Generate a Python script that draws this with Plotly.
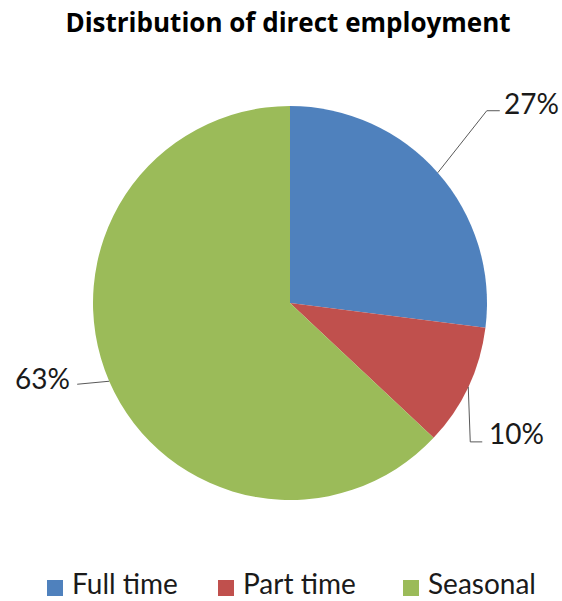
import math
import plotly.graph_objects as go

categories = ["Full time", "Part time", "Seasonal"]
values = [27, 10, 63]
colors = ["#4F81BD", "#C0504D", "#9BBB59"]

W, H = 562, 601
CX, CY, R = 290, 303, 197  # pie centre / radius in pixels

def px(x):
    return x / W

def py(y):
    return 1 - y / H

fig = go.Figure(go.Pie(
    labels=categories, values=values, sort=False, direction="clockwise",
    rotation=0, marker=dict(colors=colors, line=dict(width=0)),
    textinfo="none", hoverinfo="label+percent", showlegend=False,
    domain=dict(x=[px(CX - R), px(CX + R)], y=[py(CY + R), py(CY - R)]),
))

# leader lines and labels derived from slice mid-angles
total = sum(values)
cum = 0
mids = []
for v in values:
    mids.append((cum + v / 2) / total * 2 * math.pi)
    cum += v

bends = [
    [(49, -62), (62, -62)],
    [(2, 55), (14, 55)],
    [(-32, 3)],
]
anchors = ["left", "left", "right"]
text_dx = [2, 5, -5]
text_dy = [-8, -9, -6]
shapes, annos = [], []
for i, v in enumerate(values):
    a = mids[i]
    ex = CX + R * math.sin(a)
    ey = CY - R * math.cos(a)
    pts = [(ex, ey)] + [(ex + dx, ey + dy) for dx, dy in bends[i]]
    path = "M " + " L ".join(f"{px(x):.5f},{py(y):.5f}" for x, y in pts)
    shapes.append(dict(type="path", xref="paper", yref="paper", path=path,
                       line=dict(color="#595959", width=1)))
    lx, ly = pts[-1]
    annos.append(dict(x=px(lx + text_dx[i]), y=py(ly + text_dy[i]), xref="paper", yref="paper",
                      text=f"{round(v / total * 100)}%", showarrow=False,
                      xanchor=anchors[i], yanchor="middle",
                      font=dict(family="Lato", size=28, color="#1a1a1a")))

# custom legend (large squares, like the reference)
leg_sq_x = [47, 218, 403]
leg_y = 588
sq = 16
for i, name in enumerate(categories):
    x0 = leg_sq_x[i]
    shapes.append(dict(type="rect", xref="paper", yref="paper",
                       x0=px(x0), x1=px(x0 + sq), y0=py(leg_y + sq / 2), y1=py(leg_y - sq / 2),
                       fillcolor=colors[i], line=dict(width=0)))
    annos.append(dict(x=px(x0 + sq + 8), y=0, xref="paper", yref="paper",
                      text=name, showarrow=False, xanchor="left", yanchor="bottom",
                      borderpad=0,
                      font=dict(family="Lato", size=28, color="#1a1a1a")))

fig.update_layout(
    width=W, height=H, margin=dict(l=0, r=0, t=0, b=0),
    paper_bgcolor="white", plot_bgcolor="white",
    title=dict(text="<b>Distribution of direct employment</b>", x=px(288), xanchor="center",
               y=py(23), yanchor="middle",
               font=dict(family="Open Sans", size=26, color="#000000")),
    shapes=shapes, annotations=annos,
    showlegend=False,
)

fig.write_html("out.html")
